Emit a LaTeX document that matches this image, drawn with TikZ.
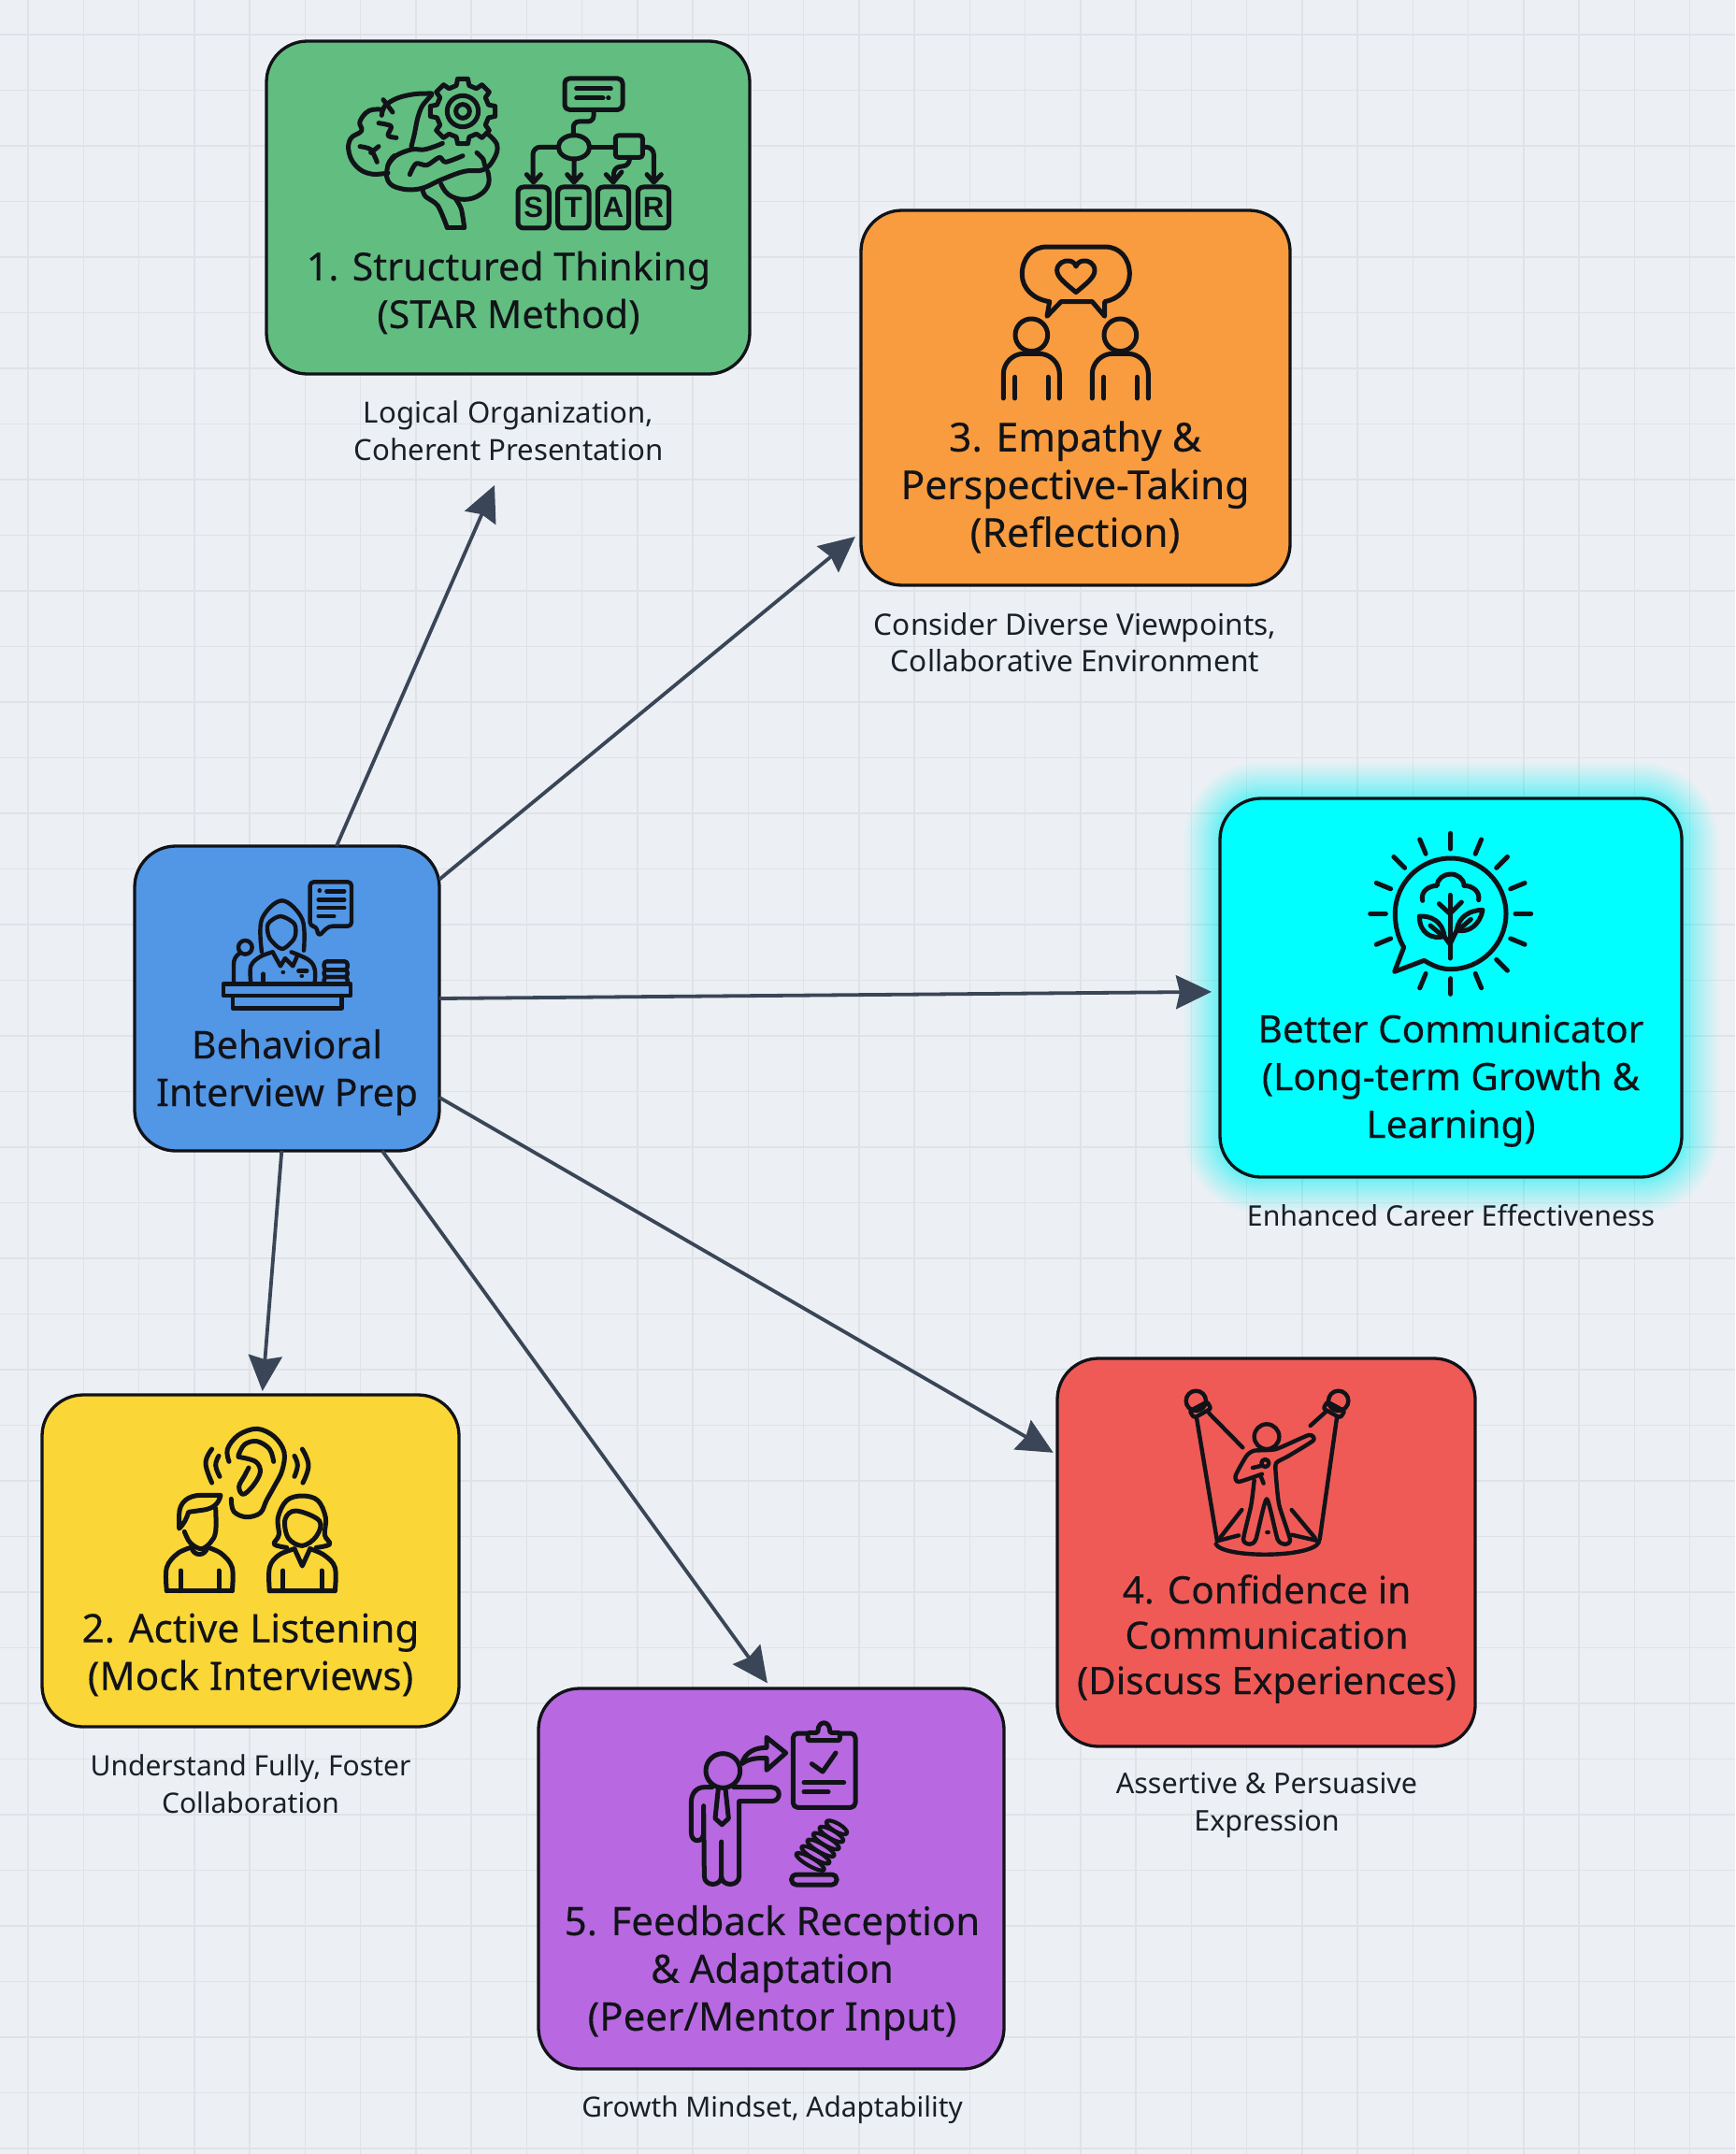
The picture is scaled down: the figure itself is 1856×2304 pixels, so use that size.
\documentclass[tikz,border=0pt]{standalone}
\usepackage{fontspec}
\setmainfont{Noto Sans}
\newfontfamily\labelfont[FakeBold=0.2]{Noto Sans}
\newfontfamily\starfont{Liberation Sans}
\definecolor{bgc}{HTML}{ECF0F4}
\definecolor{gridc}{HTML}{DFE3E8}
\definecolor{boxgreen}{HTML}{62BD80}
\definecolor{boxorange}{HTML}{F89C3F}
\definecolor{boxcyan}{HTML}{00FFFF}
\definecolor{boxblue}{HTML}{5296E6}
\definecolor{boxyellow}{HTML}{FAD636}
\definecolor{boxred}{HTML}{EF5A56}
\definecolor{boxpurple}{HTML}{B868E0}
\definecolor{ink}{HTML}{111318}
\definecolor{arrowc}{HTML}{3A4557}
\definecolor{capc}{HTML}{1A1F29}
\usetikzlibrary{arrows.meta}
\tikzset{
 x=1pt,y=-1pt,
 gridline/.style={draw=gridc,line width=1.5pt},
 card/.style={draw=ink,line width=3.3pt,rounded corners=44pt,outer sep=0pt,inner sep=0pt},
 lbl/.style={text=ink,align=center,inner sep=0pt,font=\labelfont\fontsize{#1}{51}\selectfont},
 lbltight/.style={text=ink,align=center,inner sep=0pt,font=\labelfont\fontsize{40.5}{48.5}\selectfont},
 capt/.style={text=capc,align=center,inner sep=0pt,font=\fontsize{#1}{39.5}\selectfont},
 link/.style={draw=arrowc,line width=3.8pt,-{Stealth[length=38pt,width=36pt,inset=4pt]}},
 iconline/.style={draw=ink,line width=5pt,line cap=round,line join=round},
}
\begin{document}
\begin{tikzpicture}
\useasboundingbox (0,0) rectangle (1856,2304);
\fill[bgc] (0,0) rectangle (1856,2304);
\foreach \i in {0,...,31} \draw[gridline] ({30+59.25*\i},0) -- ({30+59.25*\i},2304);
\foreach \i in {0,...,38} \draw[gridline] (0,{37+59.5*\i}) -- (1856,{37+59.5*\i});

% glow
\foreach \i in {1,...,24} {
  \pgfmathsetmacro{\w}{2*\i*\i/15}
  \draw[boxcyan,line width=\w pt,opacity=0.04,rounded corners=44pt] (1305,854) rectangle (1799,1259);
}

% cards
\node[card,fill=boxgreen,minimum width=517pt,minimum height=356pt] (green) at (543.5,222) {};
\node[card,fill=boxorange,minimum width=459pt,minimum height=401pt] (orange) at (1150.5,425.5) {};
\node[card,fill=boxcyan,minimum width=494pt,minimum height=405pt] (cyan) at (1552,1056.5) {};
\node[card,fill=boxblue,minimum width=326pt,minimum height=326pt] (blue) at (307,1068) {};
\node[card,fill=boxyellow,minimum width=446pt,minimum height=355pt] (yellow) at (268,1669.5) {};
\node[card,fill=boxred,minimum width=447pt,minimum height=415pt] (red) at (1354.5,1660.5) {};
\node[card,fill=boxpurple,minimum width=498pt,minimum height=407pt] (purple) at (825,2009.5) {};

% labels
\node[lbl=41.2] (tgreen) at (544,313) {1. Structured Thinking\\(STAR Method)};
\node[lbl=42.6] (torange) at (1150,521) {3. Empathy \&\\Perspective-Taking\\(Reflection)};
\node[lbl=40.5] (tcyan) at (1552,1156) {Better Communicator\\(Long-term Growth \&\\Learning)};
\node[lbl=41] (tblue) at (307,1147) {Behavioral\\Interview Prep};
\node[lbl=42.2] (tyellow) at (268,1770) {2. Active Listening\\(Mock Interviews)};
\node[lbltight] (tred) at (1355,1753) {4. Confidence in\\Communication\\(Discuss Experiences)};
\node[lbl=42] (tpurple) at (826,2110) {5. Feedback Reception\\\& Adaptation\\(Peer/Mentor Input)};

% captions
\node[capt=31.2] (cgreen) at (544,461) {Logical Organization,\\Coherent Presentation};
\node[capt=31.6] (corange) at (1150,687) {Consider Diverse Viewpoints,\\Collaborative Environment};
\node[capt=30.3] (ccyan) at (1552,1300) {Enhanced Career Effectiveness};
\node[capt=30] (cyellow) at (268,1908) {Understand Fully, Foster\\Collaboration};
\node[capt=30.5] (cred) at (1355,1931) {Assertive \& Persuasive\\Expression};
\node[capt=29.8] (cpurple) at (826,2257) {Growth Mindset, Adaptability};

% connectors
\coordinate (freeend) at (529,519);
\draw[link] (blue.72) -- (freeend);
\draw[link,shorten >=8pt] (blue.38.4) -- (orange.212.2);
\draw[link,shorten >=9pt] (blue.0.7) -- (cyan.181.1);
\draw[link,shorten >=5pt] (blue.-33.4) -- (red.155.4);
\draw[link,shorten >=7pt] (blue.-58.5) -- (purple.90.3);
\draw[link,shorten >=4pt] (blue.-92.1) -- (yellow.86);

% ---- icon green
\begin{scope}[shift={(340,60)},scale=1/3]
 \draw[iconline] plot[smooth,tension=.6] coordinates {(365,120)(310,122)(255,135)(215,160)(205,190)};
 \draw[iconline] plot[smooth,tension=.7] coordinates {(210,172)(165,175)(135,210)(140,240)(105,265)(100,310)(125,355)(170,378)(225,375)};
 \draw[iconline] plot[smooth,tension=.7] coordinates {(245,320)(225,350)(225,400)(265,425)(330,425)(400,395)(470,370)(530,365)(565,330)(575,285)(545,250)};
 \draw[iconline] plot[smooth,tension=.7] coordinates {(395,410)(420,445)(470,460)(520,445)(548,410)(545,370)};
 \draw[iconline] plot[smooth,tension=.5] coordinates {(335,425)(345,450)(385,480)(415,550)};
 \draw[iconline] (415,550) -- (470,550);
 \draw[iconline] plot[smooth,tension=.5] coordinates {(470,550)(460,490)(440,455)};
 \draw[iconline] plot[smooth,tension=.6] coordinates {(225,350)(250,320)(300,300)(340,300)(375,290)(400,280)};
 \draw[iconline] plot[smooth,tension=.5] coordinates {(365,125)(335,160)(320,200)(310,250)(300,290)};
 \draw[iconline] plot[smooth,tension=.5] coordinates {(195,215)(235,225)(225,255)(252,262)};
 \draw[iconline] plot[smooth,tension=.5] coordinates {(135,290)(170,300)(190,340)};
 \draw[iconline] (170,310) -- (195,290);
 \draw[iconline] plot[smooth,tension=.5] coordinates {(210,140)(240,180)};
 \draw[iconline] plot[smooth,tension=.5] coordinates {(295,380)(315,345)(350,350)(390,325)(410,340)(465,320)};
 \draw[iconline] plot[smooth,tension=.5] coordinates {(510,310)(530,330)(535,350)};
 \begin{scope}[shift={(465,177)}]
  \draw[iconline,fill=boxgreen] (-14:85) foreach \a in {0,45,...,315} { -- ({\a-14}:85) -- ({\a-9}:105) -- ({\a+9}:105) -- ({\a+14}:85) } -- cycle;
  \draw[iconline] (0,0) circle (50);
  \draw[iconline] (0,0) circle (22);
 \end{scope}
 % flow
 \draw[iconline,rounded corners=5pt] (792,72) rectangle (978,172);
 \draw[iconline] (830,105) -- (940,105) (830,135) -- (915,135) (932,135) -- (933,135);
 \draw[iconline,rounded corners=6pt] (885,172) -- (885,210) -- (820,210) -- (820,255);
 \draw[iconline] (822,292) ellipse [x radius=50,y radius=38];
 \draw[iconline,rounded corners=8pt] (772,292) -- (690,292) -- (690,400);
 \draw[iconline] (670,380) -- (692,405) -- (715,380);
 \draw[iconline] (822,330) -- (822,400) (800,380) -- (822,405) -- (845,380);
 \draw[iconline] (872,292) -- (955,292);
 \draw[iconline,rounded corners=3pt] (955,255) rectangle (1042,325);
 \draw[iconline,rounded corners=8pt] (1042,292) -- (1078,292) -- (1078,400);
 \draw[iconline] (1056,380) -- (1078,405) -- (1102,380);
 \draw[iconline,rounded corners=6pt] (1000,325) -- (1000,350) -- (950,358) -- (950,400);
 \draw[iconline] (925,380) -- (948,405) -- (975,372);
 \foreach \bx/\lt/\nm in {642/S/ls,770/T/lt,898/A/la,1027/R/lr} {
  \draw[iconline,rounded corners=6pt] (\bx,420) rectangle (\bx+100,552);
  \node[text=ink,inner sep=0pt,font=\starfont\bfseries\fontsize{31}{31}\selectfont] (\nm) at (\bx+50,486) {\lt};
 }
\end{scope}

% ---- icon orange
\begin{scope}[shift={(1040,240)},scale=1/3]
 \draw[iconline] (240,295) -- (248,248) .. controls (195,240) and (160,205) .. (160,160) .. controls (160,110) and (190,72) .. (240,72) -- (425,72) .. controls (475,72) and (505,110) .. (505,160) .. controls (505,205) and (470,240) .. (425,248) -- (425,295) -- (385,248) -- (285,248) -- cycle;
 \draw[iconline] (333,218) .. controls (300,190) and (272,170) .. (272,148) .. controls (272,125) and (295,115) .. (310,117) .. controls (322,118) and (330,125) .. (333,135) .. controls (337,125) and (345,118) .. (357,117) .. controls (372,115) and (393,125) .. (393,148) .. controls (393,170) and (366,190) .. (333,218) -- cycle;
 \foreach \dx in {0,285} {
  \begin{scope}[shift={(\dx,0)}]
   \draw[iconline] (190,355) circle (52);
   \draw[iconline] (100,558) -- (100,480) .. controls (100,445) and (130,415) .. (165,415) -- (215,415) .. controls (250,415) and (280,445) .. (280,480) -- (280,558);
   \draw[iconline] (137,490) -- (137,558) (243,490) -- (243,558);
  \end{scope}
 }
\end{scope}

% ---- icon cyan
\begin{scope}[shift={(1430,870)},scale=1/3]
 \draw[iconline] (280,472) .. controls (310,490) and (335,500) .. (365,500) .. controls (463,500) and (543,420) .. (543,322) .. controls (543,224) and (463,144) .. (365,144) .. controls (267,144) and (187,224) .. (187,322) .. controls (187,362) and (197,400) .. (215,430) -- (185,508) -- cycle;
 \begin{scope}[shift={(365,322)}]
  \foreach \a in {0,22.5,45,67.5,90,112.5,157.5,180,202.5,225,247.5,270,292.5,315,337.5}
   \draw[iconline] (\a:208) -- (\a:258);
 \end{scope}
 \draw[iconline] (363,262) -- (363,465);
 \draw[iconline] (328,290) -- (363,322) -- (400,285);
 \draw[iconline] (275,280) .. controls (268,250) and (295,232) .. (322,232) .. controls (322,208) and (345,195) .. (365,195) .. controls (388,195) and (408,210) .. (408,232) .. controls (435,232) and (460,250) .. (455,278);
 \draw[iconline] (265,330) .. controls (300,328) and (340,345) .. (345,395) .. controls (305,405) and (265,385) .. (265,330) -- cycle;
 \draw[iconline] (300,360) -- (330,385);
 \draw[iconline] (468,310) .. controls (430,310) and (390,330) .. (385,375) .. controls (425,385) and (460,355) .. (468,310) -- cycle;
 \draw[iconline] (430,340) -- (395,370);
 \draw[iconline] (345,395) -- (363,420) -- (385,375);
\end{scope}

% ---- icon blue
\begin{scope}[shift={(220,920)},scale=1/3,iconline/.append style={line width=4.4pt}]
 \draw[iconline,rounded corners=4pt] (335,70) -- (468,70) -- (468,212) -- (395,212) -- (362,245) -- (355,212) -- (335,212) -- cycle;
 \draw[iconline] (365,98) -- (366,98) (388,100) -- (445,100) (362,127) -- (445,127) (362,153) -- (445,153) (362,180) -- (412,180);
 \draw[iconline] plot[smooth,tension=.6] coordinates {(180,295)(180,190)(245,130)(310,190)(315,290)};
 \draw[iconline] plot[smooth cycle,tension=.5] coordinates {(200,205)(240,180)(285,205)(285,250)(245,285)(205,250)};
 \draw[iconline] plot[smooth,tension=.6] coordinates {(145,395)(145,340)(175,310)(215,295)};
 \draw[iconline] plot[smooth,tension=.6] coordinates {(275,295)(330,320)(350,350)(350,395)};
 \draw[iconline] (215,295) -- (240,340) -- (255,315) -- (280,340) -- (295,305);
 \draw[iconline] (185,395) -- (185,365) (298,355) -- (325,355) (248,360) -- (249,360) (308,372) -- (309,372);
 \draw[iconline] (57,398) rectangle (465,435);
 \draw[iconline] (87,435) -- (87,475) -- (437,475) -- (437,435);
 \draw[iconline] (127,280) circle (22);
 \draw[iconline] (110,298) .. controls (95,308) and (90,320) .. (90,335) -- (90,395);
 \draw[iconline,rounded corners=3pt] (380,325) rectangle (455,352);
 \draw[iconline,rounded corners=3pt] (380,352) rectangle (455,375);
 \draw[iconline,rounded corners=3pt] (380,375) rectangle (455,398);
\end{scope}

% ---- icon yellow
\begin{scope}[shift={(160,1510)},scale=1/3]
 \draw[iconline] plot[smooth,tension=.6] coordinates {(255,160)(250,120)(285,75)(345,55)(400,80)(432,130)(425,190)(400,240)(375,285)(355,325)(310,338)(270,320)(262,280)};
 \draw[iconline] plot[smooth,tension=.6] coordinates {(398,160)(385,120)(345,95)(305,105)(285,140)};
 \draw[iconline] plot[smooth,tension=.6] coordinates {(285,145)(340,160)(355,195)(330,240)(300,265)(287,240)(305,205)(318,180)};
 \draw[iconline] plot[smooth,tension=.7] coordinates {(200,120)(180,165)(200,228)};
 \draw[iconline] plot[smooth,tension=.7] coordinates {(222,142)(212,172)(225,208)};
 \draw[iconline] plot[smooth,tension=.7] coordinates {(490,120)(510,172)(492,228)};
 \draw[iconline] plot[smooth,tension=.7] coordinates {(465,142)(475,172)(465,208)};
 % man
 \draw[iconline] (95,375) -- (95,330) .. controls (95,290) and (125,268) .. (165,268) -- (228,268) .. controls (222,295) and (205,310) .. (175,315) -- (125,322) .. controls (118,345) and (110,360) .. (95,375) -- cycle;
 \draw[iconline] plot[smooth,tension=.6] coordinates {(112,385)(130,420)(165,440)(195,420)(212,385)(212,310)};
 \draw[iconline] plot[smooth,tension=.6] coordinates {(55,575)(55,500)(90,455)(135,435)};
 \draw[iconline] plot[smooth,tension=.6] coordinates {(185,435)(230,455)(265,500)(265,575)};
 \draw[iconline] (55,575) -- (265,575);
 \draw[iconline] (135,435) .. controls (140,465) and (180,465) .. (185,435);
 \draw[iconline] (100,510) -- (100,575) (222,510) -- (222,575);
 % woman
 \draw[iconline] plot[smooth,tension=.6] coordinates {(440,436)(400,425)(415,395)(412,340)(440,285)(490,270)(540,285)(565,340)(562,395)(578,425)(535,436)};
 \draw[iconline] plot[smooth cycle,tension=.6] coordinates {(435,345)(470,318)(545,350)(535,400)(490,430)(445,405)};
 \draw[iconline] plot[smooth,tension=.6] coordinates {(385,575)(385,500)(415,460)(465,440)};
 \draw[iconline] plot[smooth,tension=.6] coordinates {(515,440)(560,460)(595,500)(595,575)};
 \draw[iconline] (465,440) -- (490,495) -- (515,440) (385,575) -- (595,575);
 \draw[iconline] (428,510) -- (428,575) (552,510) -- (552,575);
\end{scope}

% ---- icon red
\begin{scope}[shift={(1250,1470)},scale=1/3,iconline/.append style={line width=4.4pt}]
 \draw[iconline] (88,85) circle (32) (545,85) circle (32);
 \draw[iconline,rounded corners=2pt] (68,118) -- (124,88) -- (136,110) -- (82,140) -- cycle;
 \draw[iconline,rounded corners=2pt] (565,118) -- (509,88) -- (497,110) -- (551,140) -- cycle;
 \draw[iconline] (90,140) -- (155,530) (130,125) -- (238,235);
 \draw[iconline] (540,140) -- (485,530) (505,120) -- (455,165);
 \draw[iconline] (152,545) .. controls (175,590) and (455,590) .. (482,540);
 \draw[iconline] (155,535) -- (225,517) (482,535) -- (395,515);
 \draw[iconline] (165,525) -- (235,435) (470,525) -- (395,435);
 \draw[iconline] (315,200) circle (40);
 \draw[iconline] plot[smooth,tension=.35] coordinates {(275,340)(265,420)(240,530)(260,545)(280,530)(315,400)(350,530)(375,545)(390,530)(355,420)(345,330)(345,285)(385,262)(465,212)(450,195)(345,240)(275,245)(250,262)(215,325)(225,345)(300,320)};
 \draw[iconline] (310,285) circle (12);
 \draw[iconline] (300,293) -- (270,300) (295,325) -- (305,350) (316,507) -- (320,507);
\end{scope}

% ---- icon purple
\begin{scope}[shift={(720,1830)},scale=1/3]
 \draw[iconline] (160,192) circle (55);
 \draw[iconline] (125,245) -- (100,245) .. controls (75,245) and (58,265) .. (58,295) -- (58,390) .. controls (58,425) and (98,425) .. (98,390) -- (98,305) -- (100,530) .. controls (100,565) and (155,565) .. (155,530) -- (155,420) (155,530) .. controls (155,565) and (212,565) .. (212,530) -- (212,290) -- (315,290) .. controls (348,290) and (348,245) .. (315,245) -- (195,245);
 \draw[iconline] (145,250) -- (135,345) -- (157,365) -- (178,345) -- (168,250);
 \draw[iconline] (220,170) .. controls (232,130) and (265,118) .. (300,118) -- (300,85) -- (362,135) -- (300,190) -- (300,152) .. controls (265,150) and (240,155) .. (220,170) -- cycle;
 \draw[iconline,rounded corners=5pt] (385,72) rectangle (585,310);
 \draw[iconline,fill=boxpurple,rounded corners=2pt] (432,95) -- (432,70) -- (465,70) .. controls (465,30) and (503,30) .. (503,70) -- (535,70) -- (535,95) -- cycle;
 \draw[iconline] (445,170) -- (480,195) -- (522,135);
 \draw[iconline] (420,230) -- (548,230) (420,260) -- (498,260);
 \draw[iconline,rounded corners=5pt] (380,525) rectangle (525,558);
 \foreach \i/\r in {0/52,1/52,2/50,3/48,4/44,5/38} {
   \coordinate (coilc\i) at ({440+17*\i},{484-22*\i});
   \draw[iconline,line width=4.2pt,rotate around={-30:(coilc\i)}] (coilc\i) ellipse [x radius=\r,y radius=13];
 }
\end{scope}
\end{tikzpicture}
\end{document}
